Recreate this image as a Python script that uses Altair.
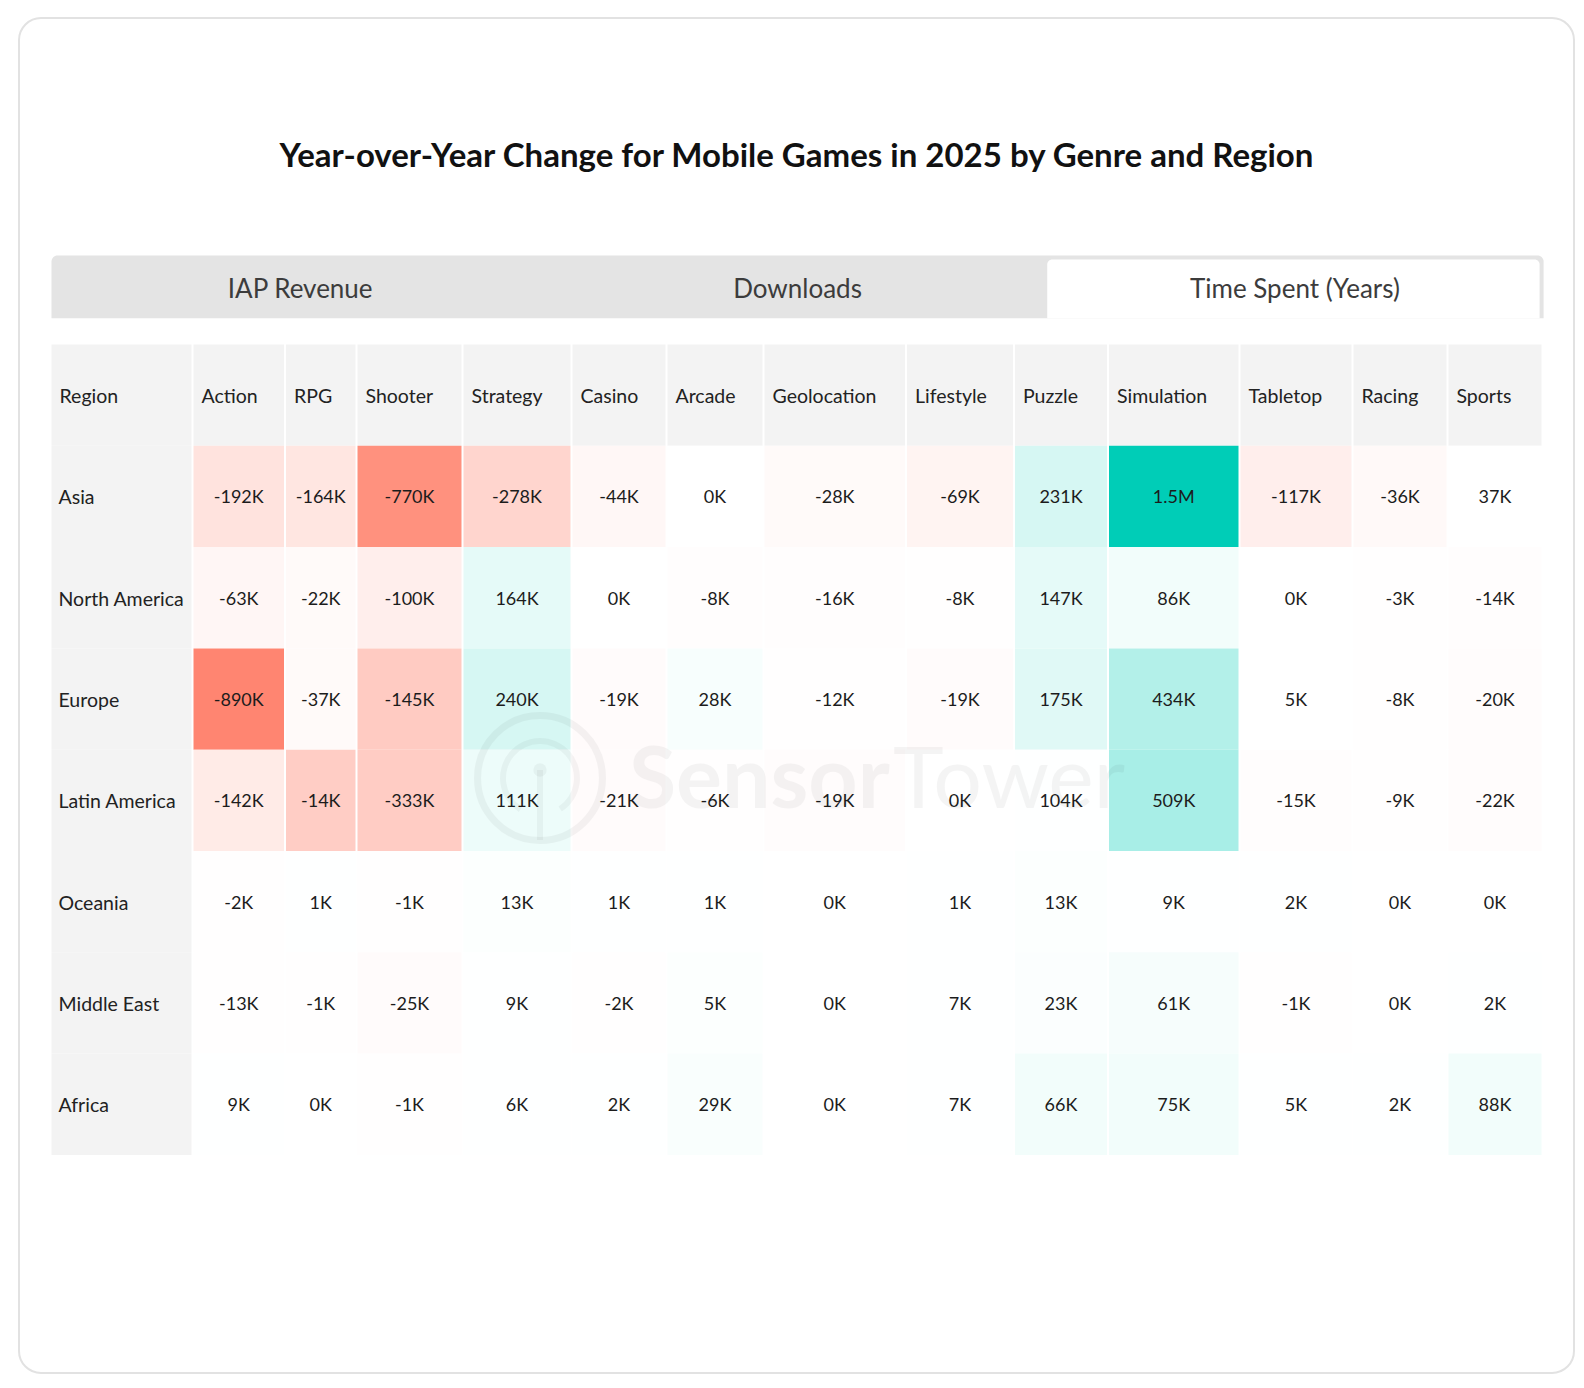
import altair as alt
import pandas as pd

TITLE = "Year-over-Year Change for Mobile Games in 2025 by Genre and Region"
TABS = ["IAP Revenue", "Downloads", "Time Spent (Years)"]
ACTIVE_TAB = "Time Spent (Years)"

REGIONS = ["Asia", "North America", "Europe", "Latin America", "Oceania", "Middle East", "Africa"]
GENRES = ["Action", "RPG", "Shooter", "Strategy", "Casino", "Arcade", "Geolocation",
          "Lifestyle", "Puzzle", "Simulation", "Tabletop", "Racing", "Sports"]

# Year-over-year change in time spent, thousands of years (one list per region, GENRES order)
CHANGE_ASIA = [-192, -164, -770, -278, -44, 0, -28, -69, 231, 1500, -117, -36, 37]
CHANGE_NORTH_AMERICA = [-63, -22, -100, 164, 0, -8, -16, -8, 147, 86, 0, -3, -14]
CHANGE_EUROPE = [-890, -37, -145, 240, -19, 28, -12, -19, 175, 434, 5, -8, -20]
CHANGE_LATIN_AMERICA = [-142, -14, -333, 111, -21, -6, -19, 0, 104, 509, -15, -9, -22]
CHANGE_OCEANIA = [-2, 1, -1, 13, 1, 1, 0, 1, 13, 9, 2, 0, 0]
CHANGE_MIDDLE_EAST = [-13, -1, -25, 9, -2, 5, 0, 7, 23, 61, -1, 0, 2]
CHANGE_AFRICA = [9, 0, -1, 6, 2, 29, 0, 7, 66, 75, 5, 2, 88]

# Relative change used for the cell shading (-1 strongest decline, +1 strongest growth)
REL_ASIA = [-0.22, -0.20, -0.87, -0.33, -0.06, 0.0, -0.04, -0.09, 0.16, 1.0, -0.13, -0.05, 0.0]
REL_NORTH_AMERICA = [-0.07, -0.04, -0.13, 0.10, 0.0, -0.015, -0.015, -0.01, 0.10, 0.05, 0.0, -0.005, -0.015]
REL_EUROPE = [-0.96, -0.04, -0.41, 0.16, -0.03, 0.03, -0.01, -0.03, 0.12, 0.30, 0.0, -0.01, -0.02]
REL_LATIN_AMERICA = [-0.16, -0.39, -0.40, 0.07, -0.03, -0.01, -0.02, 0.0, 0.005, 0.34, -0.015, -0.01, -0.02]
REL_OCEANIA = [-0.005, 0.005, -0.005, 0.01, 0.005, 0.005, 0.0, 0.005, 0.01, 0.005, 0.005, 0.0, 0.0]
REL_MIDDLE_EAST = [-0.01, -0.005, -0.03, 0.005, -0.01, 0.01, 0.0, 0.005, 0.015, 0.035, -0.005, 0.0, 0.005]
REL_AFRICA = [0.005, 0.0, -0.005, 0.005, 0.005, 0.025, 0.0, 0.005, 0.05, 0.05, 0.005, 0.005, 0.05]

CHANGES = [CHANGE_ASIA, CHANGE_NORTH_AMERICA, CHANGE_EUROPE, CHANGE_LATIN_AMERICA,
           CHANGE_OCEANIA, CHANGE_MIDDLE_EAST, CHANGE_AFRICA]
RELS = [REL_ASIA, REL_NORTH_AMERICA, REL_EUROPE, REL_LATIN_AMERICA,
        REL_OCEANIA, REL_MIDDLE_EAST, REL_AFRICA]

# ---- layout (card coordinates, pixels) ----
CARD_W, CARD_H = 1555, 1355
FONT = "Lato"
TAB_X0, TAB_X1, TAB_Y0, TAB_Y1 = 32.5, 1524.6, 237.6, 300.2
TABLE_X0, TABLE_Y0, ROW_H = 32.5, 326.5, 101.3
COL_W = [141, 92.5, 71.5, 106, 109, 95, 97, 142.5, 108, 94, 131.5, 113, 95, 95]
GAP = 1.0
TEXT_DY = 2.0
LABEL_INSET = 8.0

edges = [TABLE_X0]
for w in COL_W:
    edges.append(edges[-1] + w)


def fmt(v):
    if abs(v) >= 1000:
        return f"{v / 1000:.1f}M"
    return f"{v}K"


# tabs
tab_w = (TAB_X1 - TAB_X0) / len(TABS)
tabs = pd.DataFrame({
    "tab": TABS,
    "xc": [TAB_X0 + tab_w * (i + 0.5) for i in range(len(TABS))],
    "yc": [(TAB_Y0 + TAB_Y1) / 2 + 3] * len(TABS),
})
tab_bar = pd.DataFrame({"x0": [TAB_X0], "x1": [TAB_X1], "y0": [TAB_Y0], "y1": [TAB_Y1]})
ai = TABS.index(ACTIVE_TAB)
active = pd.DataFrame({
    "x0": [TAB_X0 + tab_w * ai + 1], "x1": [TAB_X1 - 4],
    "y0": [TAB_Y0 + 4], "y1": [TAB_Y1],
})

# header row
headers = ["Region"] + GENRES
head = pd.DataFrame({
    "label": headers,
    "x0": [edges[i] + (0 if i == 0 else GAP) for i in range(len(headers))],
    "x1": [edges[i + 1] - GAP for i in range(len(headers))],
    "y0": [TABLE_Y0] * len(headers),
    "y1": [TABLE_Y0 + ROW_H] * len(headers),
})
head["xt"] = head["x0"] + LABEL_INSET
head["yc"] = (head["y0"] + head["y1"]) / 2 + TEXT_DY

# region column
reg = pd.DataFrame({
    "label": REGIONS,
    "x0": [edges[0]] * len(REGIONS),
    "x1": [edges[1] - GAP] * len(REGIONS),
    "y0": [TABLE_Y0 + ROW_H * (r + 1) for r in range(len(REGIONS))],
    "y1": [TABLE_Y0 + ROW_H * (r + 2) for r in range(len(REGIONS))],
})
reg["xt"] = reg["x0"] + LABEL_INSET - 1
reg["yc"] = (reg["y0"] + reg["y1"]) / 2 + TEXT_DY

# data cells
rows = []
for r, region in enumerate(REGIONS):
    for g, genre in enumerate(GENRES):
        v = CHANGES[r][g]
        rows.append({
            "region": region, "genre": genre, "value": v, "label": fmt(v),
            "rel": RELS[r][g],
            "x0": edges[g + 1] + GAP, "x1": edges[g + 2] - GAP,
            "y0": TABLE_Y0 + ROW_H * (r + 1), "y1": TABLE_Y0 + ROW_H * (r + 2),
        })
cells = pd.DataFrame(rows)
cells["xc"] = (cells["x0"] + cells["x1"]) / 2
cells["yc"] = (cells["y0"] + cells["y1"]) / 2 + TEXT_DY

xs = alt.Scale(domain=[0, CARD_W], nice=False, zero=False)
ys = alt.Scale(domain=[0, CARD_H], nice=False, zero=False, reverse=True)


def X(f):
    return alt.X(f"{f}:Q", scale=xs, axis=None)


def Y(f):
    return alt.Y(f"{f}:Q", scale=ys, axis=None)


def box(df, **mark):
    return alt.Chart(df).mark_rect(**mark).encode(
        x=X("x0"), x2="x1", y=Y("y0"), y2="y1")


bar_layer = box(tab_bar, color="#e4e4e4", cornerRadiusTopLeft=6, cornerRadiusTopRight=6)
active_layer = box(active, color="#ffffff", cornerRadiusTopLeft=5, cornerRadiusTopRight=5)
tab_text = alt.Chart(tabs).mark_text(font=FONT, fontSize=26, color="#3c3c3c",
                                     baseline="middle", align="center").encode(
    x=X("xc"), y=Y("yc"), text="tab:N")

head_bg = box(head, color="#f3f3f3")
reg_bg = box(reg, color="#f3f3f3")
cell_bg = alt.Chart(cells).mark_rect().encode(
    x=X("x0"), x2="x1", y=Y("y0"), y2="y1",
    color=alt.Color("rel:Q", legend=None,
                    scale=alt.Scale(domain=[-1, 0, 1],
                                    range=["#ff806b", "#ffffff", "#00cdb7"],
                                    interpolate="rgb")),
    tooltip=["region:N", "genre:N", "label:N"],
)

head_text = alt.Chart(head).mark_text(font=FONT, fontSize=19.5, color="#222222",
                                      align="left", baseline="middle").encode(
    x=X("xt"), y=Y("yc"), text="label:N")
reg_text = alt.Chart(reg).mark_text(font=FONT, fontSize=19.5, color="#222222",
                                    align="left", baseline="middle").encode(
    x=X("xt"), y=Y("yc"), text="label:N")
cell_text = alt.Chart(cells).mark_text(font=FONT, fontSize=18, color="#1c1c1c",
                                       align="center", baseline="middle").encode(
    x=X("xc"), y=Y("yc"), text="label:N")

# faint brand watermark across the table
wm_ring = pd.DataFrame({"x": [521], "y": [760]})
wm_stem = pd.DataFrame({"x": [521], "y": [752], "y1": [822]})
wm_word = pd.DataFrame({"x": [610, 874], "y": [790, 790], "w": ["Sensor", "Tower"],
                        "wt": ["bold", "normal"]})
WM = dict(color="#000000", opacity=0.04)
outer = alt.Chart(wm_ring).mark_point(shape="circle", size=15600, filled=False,
                                      strokeWidth=7, **WM).encode(x=X("x"), y=Y("y"))
inner = alt.Chart(wm_ring).mark_arc(radius=34, radius2=40, theta=3.7, theta2=8.85, **WM).encode(
    x=X("x"), y=Y("y"))
dot = alt.Chart(wm_stem).mark_point(shape="circle", size=180, filled=True, **WM).encode(
    x=X("x"), y=Y("y"))
stem = alt.Chart(wm_stem).mark_rule(strokeWidth=6, **WM).encode(x=X("x"), y=Y("y"), y2="y1")
word_bold = alt.Chart(wm_word[wm_word.wt == "bold"]).mark_text(
    font=FONT, fontSize=86, fontWeight="bold", align="left", baseline="alphabetic", **WM).encode(
    x=X("x"), y=Y("y"), text="w:N")
word_reg = alt.Chart(wm_word[wm_word.wt == "normal"]).mark_text(
    font=FONT, fontSize=86, fontWeight="normal", align="left", baseline="alphabetic", **WM).encode(
    x=X("x"), y=Y("y"), text="w:N")

chart = alt.layer(
    bar_layer, active_layer, tab_text,
    head_bg, reg_bg, cell_bg,
    head_text, reg_text, cell_text,
    outer, inner, dot, stem, word_bold, word_reg,
).properties(
    width=CARD_W, height=CARD_H,
    title=alt.TitleParams(TITLE, font=FONT, fontSize=33, fontWeight="bold", color="#111111",
                          anchor="middle", frame="group", baseline="alphabetic", offset=-182),
    autosize=alt.AutoSizeParams(type="none"),
    padding={"left": 19, "top": 18, "right": 10, "bottom": 15},
    background="#ffffff",
).configure_view(
    stroke="#e2e2e2", strokeWidth=2, cornerRadius=22, fill="#ffffff",
)

chart.save("out.html", embed_options={"renderer": "svg", "actions": False})
